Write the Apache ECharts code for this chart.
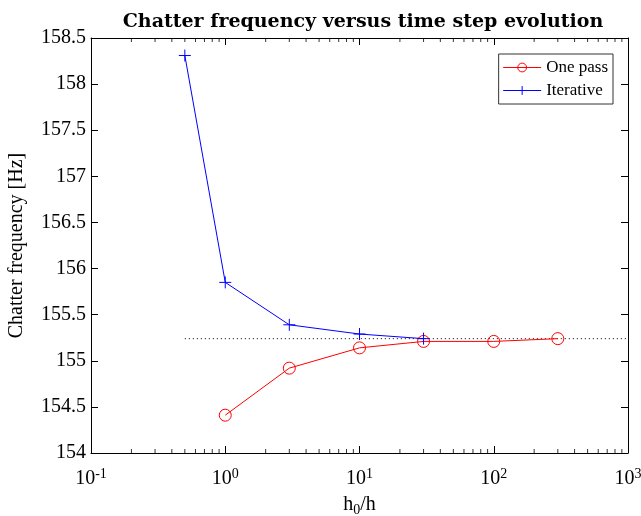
<!DOCTYPE html>
<html><head><meta charset="utf-8">
<script src="https://cdn.jsdelivr.net/npm/echarts@6/dist/echarts.min.js"></script>
<style>html,body{margin:0;padding:0;background:#fff}#c{width:641px;height:516px}</style>
</head><body><div id="c"></div>
<script>
const iterX = [0.5, 1, 3, 10, 30];
const iterY = [158.31, 155.85, 155.39, 155.29, 155.24];
const oneX = [1, 3, 10, 30, 100, 300];
const oneY = [154.41, 154.92, 155.14, 155.21, 155.21, 155.24];
const refX = [0.5, 1000];
const refY = [155.24, 155.24];
const xMin = 0.1, xMax = 1000;
const yMin = 154, yMax = 158.5, yStep = 0.5;

const minorTicks = [];
for (let e = -1; e < 3; e++) for (let k = 2; k <= 9; k++) minorTicks.push(k * Math.pow(10, e));

const F = 'Liberation Serif, DejaVu Serif, serif';
const zip = (a, b) => a.map((v, i) => [v, b[i]]);
const plus = 'path://M0,-1L0,1M-1,0L1,0';
const supFmt = v => { const e = Math.round(Math.log10(v)); return '{b|10}{s|' + e + '}'; };
const rich = { b: { fontFamily: F, fontSize: 20, color: '#000' }, s: { fontFamily: F, fontSize: 14, color: '#000', verticalAlign: 'top', padding: [0, 0, 10, 0] } };

const chart = echarts.init(document.getElementById('c'));
chart.setOption({
  animation: false,
  backgroundColor: '#fff',
  title: { text: 'Chatter frequency versus time step evolution', left: 358, textAlign: 'center', top: 8,
    textStyle: { fontFamily: 'DejaVu Serif, serif', fontWeight: 'bold', fontSize: 19, color: '#000' } },
  grid: { left: 91, right: 13, top: 38, bottom: 63, outerBoundsMode: 'none', containLabel: false },
  legend: { right: 28, top: 54, orient: 'vertical', data: ['One pass', 'Iterative'],
    borderColor: '#333', borderWidth: 1, padding: [5, 5, 5, 4], itemGap: 6, itemWidth: 38, itemHeight: 11,
    lineStyle: { width: 1 }, itemStyle: { borderWidth: 1 },
    textStyle: { fontFamily: F, fontSize: 17, color: '#000' }, backgroundColor: '#fff' },
  xAxis: [{
    type: 'log', min: xMin, max: xMax, logBase: 10, position: 'bottom',
    axisLine: { lineStyle: { color: '#000' } }, axisTick: { inside: true, length: 7, lineStyle: { color: '#000' } },
    splitLine: { show: false },
    axisLabel: { formatter: supFmt, rich: rich, margin: 14 },
    name: '{a|h}{c|0}{a|/h}', nameLocation: 'middle', nameGap: 40,
    nameTextStyle: { rich: { a: { fontFamily: F, fontSize: 20, color: '#000' }, c: { fontFamily: F, fontSize: 14, color: '#000', verticalAlign: 'bottom', padding: [10, 0, 0, 0] } } }
  }, {
    type: 'log', min: xMin, max: xMax, logBase: 10, position: 'top',
    axisLine: { lineStyle: { color: '#000' } }, axisTick: { inside: true, length: 7, lineStyle: { color: '#000' } },
    axisLabel: { show: false }, splitLine: { show: false }
  }],
  yAxis: [{
    type: 'value', min: yMin, max: yMax, interval: yStep, position: 'left',
    axisLine: { show: true, lineStyle: { color: '#000' } }, axisTick: { show: true, inside: true, length: 7, lineStyle: { color: '#000' } },
    splitLine: { show: false },
    axisLabel: { fontFamily: F, fontSize: 20, color: '#000', margin: 5 },
    name: 'Chatter frequency [Hz]', nameLocation: 'middle', nameGap: 64,
    nameTextStyle: { fontFamily: F, fontSize: 20, color: '#000' }
  }, {
    type: 'value', min: yMin, max: yMax, interval: yStep, position: 'right',
    axisLine: { show: true, lineStyle: { color: '#000' } }, axisTick: { show: true, inside: true, length: 7, lineStyle: { color: '#000' } },
    axisLabel: { show: false }, splitLine: { show: false }
  }],
  series: [
    { name: 'ref', type: 'line', data: zip(refX, refY), symbol: 'none', silent: true,
      lineStyle: { color: '#000', width: 1, type: [1, 3] } },
    { name: 'One pass', type: 'line', data: zip(oneX, oneY), symbol: 'circle', symbolSize: 12,
      lineStyle: { color: '#ff0000', width: 1 }, itemStyle: { color: 'rgba(0,0,0,0)', borderColor: '#ff0000', borderWidth: 1 }, z: 3 },
    { name: 'Iterative', type: 'line', data: zip(iterX, iterY), symbol: plus, symbolSize: 12,
      lineStyle: { color: '#0000ff', width: 1 }, itemStyle: { color: '#0000ff', borderColor: '#0000ff', borderWidth: 1 }, z: 4 },
    { name: 'minorB', type: 'scatter', data: minorTicks.map(v => [v, yMin]), symbol: 'rect', symbolSize: [1, 4],
      symbolOffset: [0, -2], itemStyle: { color: '#000' }, silent: true, clip: false },
    { name: 'minorT', type: 'scatter', data: minorTicks.map(v => [v, yMax]), symbol: 'rect', symbolSize: [1, 4],
      symbolOffset: [0, 2], itemStyle: { color: '#000' }, silent: true, clip: false }
  ]
});
</script></body></html>
